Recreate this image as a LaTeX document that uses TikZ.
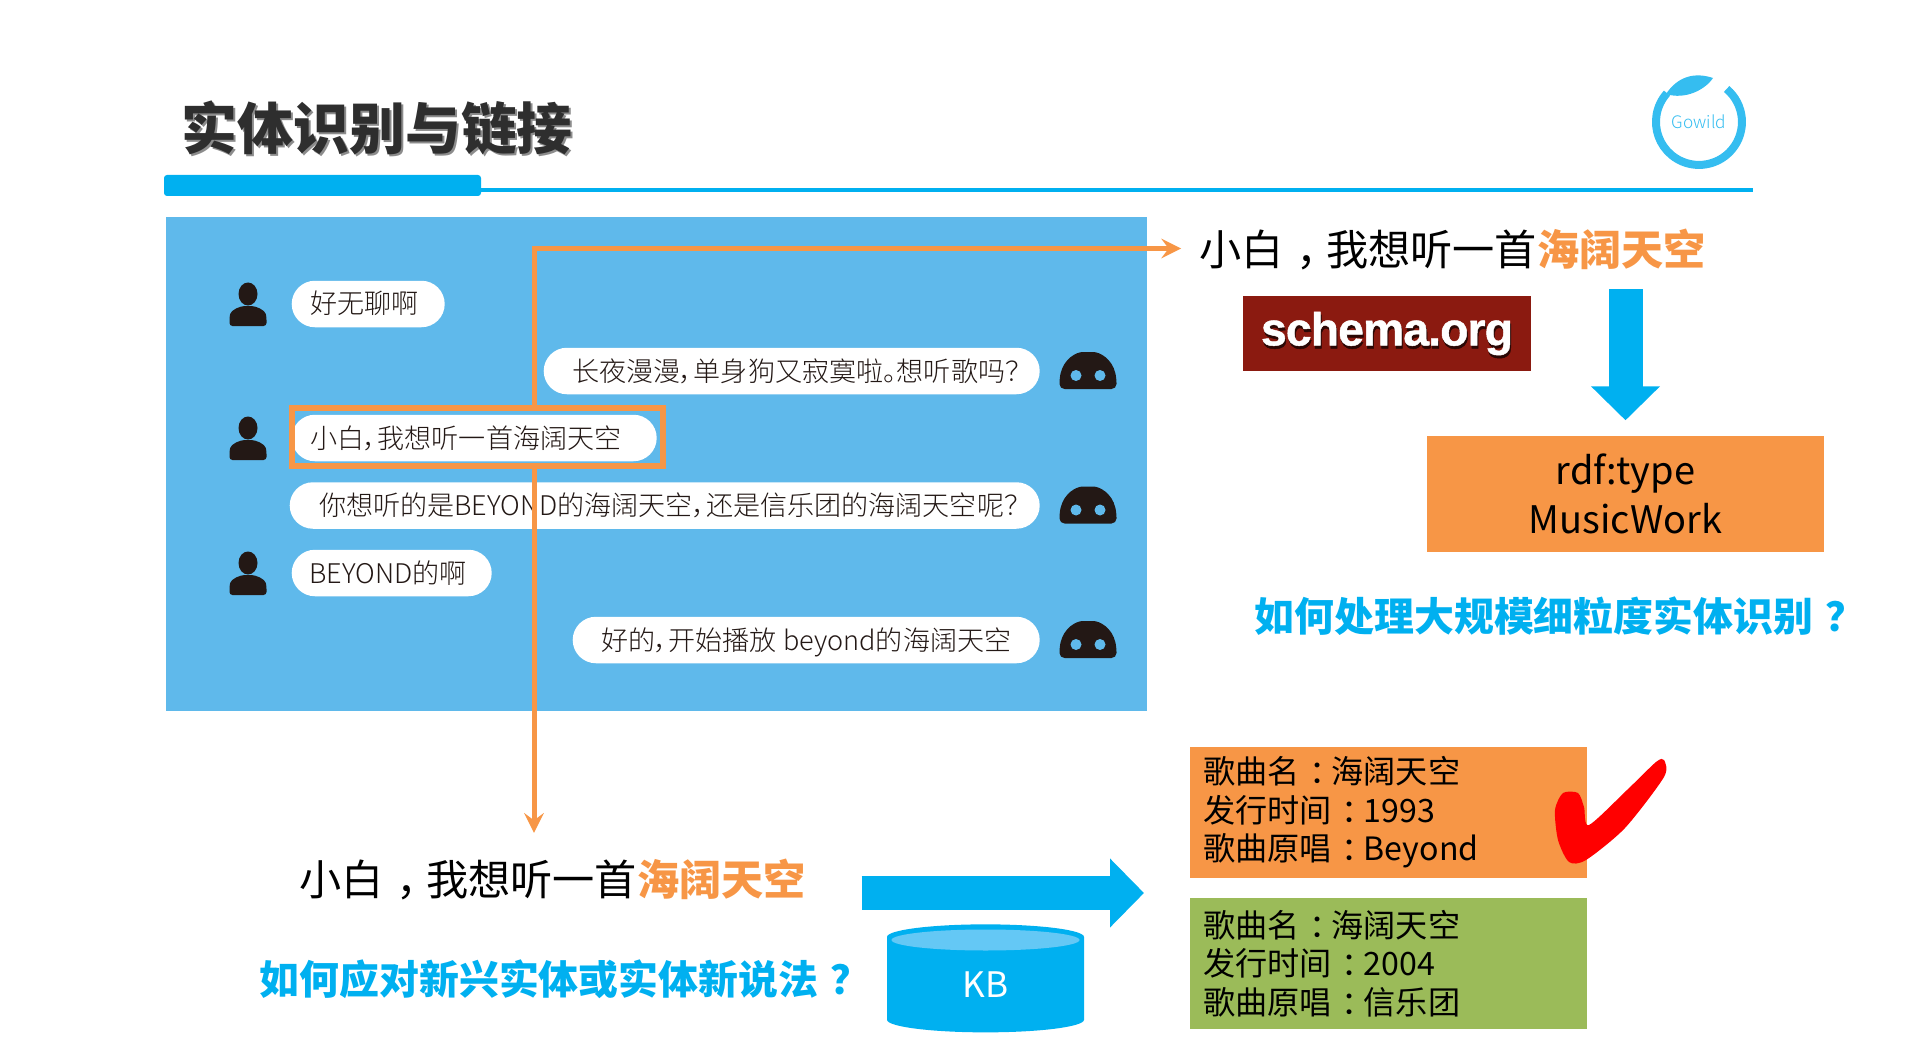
\documentclass[tikz,border=0pt]{standalone}
\usepackage{fontspec}
\setmainfont{Noto Sans CJK SC}
\newfontfamily\cjklight[RawFeature=+palt]{Noto Sans CJK SC Light}
\newfontfamily\cjkblack{Noto Sans CJK SC Black}
\newfontfamily\schemafont[LetterSpace=-2.0,BoldFeatures={FakeBold=1}]{Liberation Sans}
\usepackage{tikz}
\usetikzlibrary{arrows,arrows.meta,shapes.misc,shapes.geometric,positioning}
\definecolor{gwblue}{RGB}{0,176,240}
\definecolor{gwpanel}{RGB}{95,185,235}
\definecolor{gworange}{RGB}{247,150,70}
\definecolor{gwgreen}{RGB}{155,187,89}
\definecolor{gwdark}{RGB}{35,24,21}
\definecolor{gwlogo}{RGB}{53,189,240}
\definecolor{gwbrick}{RGB}{139,26,16}
\definecolor{gwkbtop}{RGB}{100,200,245}
\newcommand{\midmark}[1]{\hspace{0.3em}#1\hspace{-0.3em}}
\tikzstyle{bubble} = [rounded rectangle, fill=white, minimum height=0.465cm, inner sep=0, anchor=west, text=gwdark, text height=0.26cm, text depth=0.06cm, font=\cjklight\fontsize{7.7}{9}\selectfont]
\tikzstyle{heard} = [anchor=west, inner sep=0, font=\fontsize{12}{14}\selectfont]
\tikzstyle{question} = [anchor=west, inner sep=0, text=gwblue, font=\bfseries\fontsize{11.35}{13}\selectfont]
\tikzstyle{songbox} = [rectangle, minimum width=3.97cm, minimum height=1.31cm, text width=3.71cm, inner xsep=0.13cm, inner ysep=0, align=left, font=\fontsize{9.15}{10.95}\selectfont]
\tikzstyle{linkarrow} = [line width=0.05cm,->,>=stealth,color=gworange]
\tikzstyle{bigarrow} = [line width=0.34cm,-{Triangle[length=0.34cm,width=0.67cm]},color=gwblue]
\tikzset{
  usericon/.pic={
    \fill[gwdark] (0,0.10) ellipse (0.095 and 0.115);
    \fill[gwdark, rounded corners=0.03cm] (-0.185,-0.22) -- (-0.185,-0.13) .. controls (-0.17,-0.06) and (-0.08,-0.02) .. (0,-0.02) .. controls (0.08,-0.02) and (0.17,-0.06) .. (0.185,-0.13) -- (0.185,-0.22) -- cycle;
  },
  boticon/.pic={
    \fill[gwdark, rounded corners=0.05cm] (-0.285,-0.18) -- (-0.285,-0.07) .. controls (-0.24,0.12) and (-0.12,0.19) .. (0,0.19) .. controls (0.12,0.19) and (0.24,0.12) .. (0.285,-0.07) -- (0.285,-0.18) -- cycle;
    \fill[gwpanel] (-0.12,-0.045) circle (0.055) (0.12,-0.045) circle (0.055);
  }
}
\begin{document}
\begin{tikzpicture}
\useasboundingbox (0,0) rectangle (19.19,10.44);

% Title
\node[anchor=west, inner sep=0, text=black!45, font=\cjkblack\fontsize{15.9}{18}\selectfont] (titleshadow) at (1.83,9.14) {实体识别与链接};
\node[anchor=west, inner sep=0, text=black!82, font=\cjkblack\fontsize{15.9}{18}\selectfont] (title) at (1.81,9.16) {实体识别与链接};
\fill[gwblue, rounded corners=0.03cm] (1.64,8.48) rectangle (4.81,8.69);
\fill[gwblue] (4.81,8.52) rectangle (17.53,8.56);

% Logo
\draw[gwlogo, line width=0.08cm] (17.266,9.55) arc (50:-222:0.43);
\fill[gwlogo] (16.66,9.50) .. controls (16.78,9.68) and (16.95,9.72) .. (17.13,9.66) .. controls (17.05,9.54) and (16.85,9.44) .. (16.66,9.50);
\node[inner sep=0, text=gwlogo, font=\cjklight\fontsize{4.9}{6}\selectfont] (logotext) at (16.99,9.22) {Gowild};

% Dialogue panel
\fill[gwpanel] (1.66,3.33) rectangle (11.47,8.27);
\node[bubble, minimum width=1.53cm] (ask1) at (2.91,7.40) {\hspace*{-0.074cm}好无聊啊};
\node[bubble, minimum width=4.96cm] (reply1) at (5.43,6.73) {\hspace*{0.074cm}长夜漫漫，单身狗又寂寞啦。想听歌吗？};
\node[bubble, minimum width=3.65cm] (ask2) at (2.91,6.06) {\hspace*{-0.17cm}小白，我想听一首海阔天空};
\node[bubble, minimum width=7.50cm] (reply2) at (2.89,5.385) {\hspace*{0.074cm}你想听的是BEYOND的海阔天空，还是信乐团的海阔天空呢？};
\node[bubble, minimum width=2.00cm] (ask3) at (2.91,4.71) {\hspace*{-0.07cm}BEYOND的啊};
\node[bubble, minimum width=4.67cm] (reply3) at (5.72,4.04) {好的，开始播放 beyond的海阔天空};
\foreach \y in {7.40,6.06,4.71} \pic at (2.48,\y) {usericon};
\foreach \y in {6.73,5.385,4.04} \pic at (10.88,\y) {boticon};
\node[draw=gworange, line width=0.06cm, minimum width=3.71cm, minimum height=0.58cm, inner sep=0] (focus) at (4.775,6.07) {};

% Recognised sentences
\node[heard] (heardtop) at (11.99,7.95) {小白\midmark{，}我想听一首\textbf{\textcolor{gworange}{海阔天空}}};
\node[heard] (heardlow) at (2.99,1.65) {小白\midmark{，}我想听一首\textbf{\textcolor{gworange}{海阔天空}}};

% Arrows from the highlighted sentence
\coordinate (bend) at (5.34,7.955);
\draw[linkarrow, shorten >=0.18cm] (focus.north -| bend) -- (bend) -- (heardtop.west |- bend);
\draw[linkarrow, shorten >=0.25cm] (focus.south -| bend) -- (heardlow.north -| bend);

% Upper right: type
\node[fill=gwbrick, minimum width=2.88cm, minimum height=0.75cm, inner sep=0] (schemabox) at (13.87,7.105) {};
\node[inner sep=0, text=black!70!gwbrick, font=\schemafont\bfseries\fontsize{13.2}{15}\selectfont] (schemashadow) at (13.88,7.075) {schema.org};
\node[inner sep=0, text=white, font=\schemafont\bfseries\fontsize{13.2}{15}\selectfont] (schema) at (13.87,7.105) {schema.org};
\node[fill=gworange, minimum width=3.97cm, minimum height=1.16cm, inner sep=0, align=center, font=\fontsize{10.8}{13.9}\selectfont] (rdf) at (16.255,5.50) {rdf:type\\MusicWork};
\coordinate (typestart) at (16.255,7.55);
\draw[bigarrow, shorten >=0.15cm] (typestart) -- (rdf.north);
\node[question] (askfine) at (12.54,4.28) {如何处理大规模细粒度实体识别\midmark{？}};

% Lower part: linking
\node[question] (asknew) at (2.59,0.65) {如何应对新兴实体或实体新说法\midmark{？}};
\node[cylinder, shape border rotate=90, aspect=0.55, fill=gwblue, minimum width=1.97cm, minimum height=1.08cm, inner sep=0, text=white, font=\fontsize{10}{12}\selectfont] (kb) at (9.855,0.59) {KB};
\fill[gwkbtop] (9.855,1.04) ellipse (0.94 and 0.105);
\coordinate (linktip) at (11.44,1.51);
\draw[bigarrow, shorten <=0.55cm] (heardlow.east |- linktip) -- (linktip);
\node[songbox, fill=gworange] (song1) at (13.885,2.315) {歌曲名\midmark{：}海阔天空\\发行时间\midmark{：}1993\\歌曲原唱\midmark{：}Beyond};
\node[songbox, fill=gwgreen] (song2) at (13.885,0.805) {歌曲名\midmark{：}海阔天空\\发行时间\midmark{：}2004\\歌曲原唱\midmark{：}信乐团};

% Check mark
\fill[red] plot[smooth cycle, tension=0.45] coordinates {(16.64,2.84) (16.64,2.67) (16.25,2.16) (15.86,1.84) (15.69,1.82) (15.58,2.04) (15.55,2.34) (15.63,2.51) (15.78,2.51) (15.84,2.37) (15.89,2.19) (16.27,2.54) (16.56,2.82)};
\end{tikzpicture}
\end{document}
